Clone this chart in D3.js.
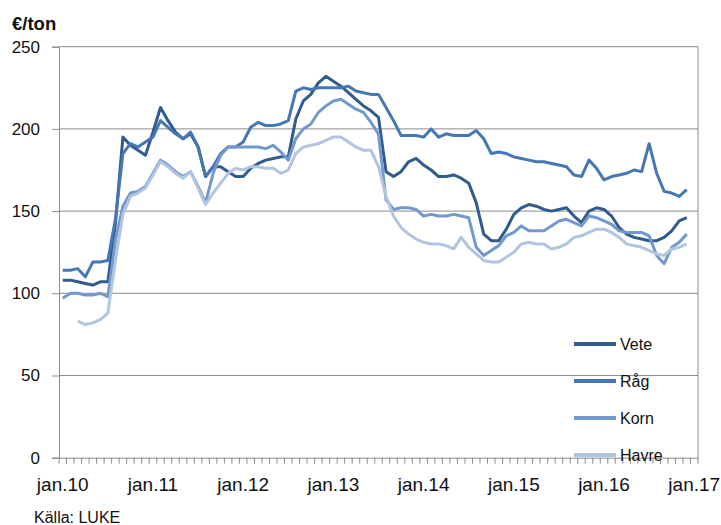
<!DOCTYPE html>
<html>
<head>
<meta charset="utf-8">
<script src="https://cdn.jsdelivr.net/npm/d3@7"></script>
<style>
  body { margin: 0; background: #fff; }
  text { font-family: "Liberation Sans", Arial, sans-serif; fill: #111; }
</style>
</head>
<body>
<div id="chart"></div>
<script>
// monthly prices, jan.10 - dec.16 (€/ton)
var monthNames = ["jan", "feb", "mar", "apr", "maj", "jun", "jul", "aug", "sep", "okt", "nov", "dec"];
var years = ["10", "11", "12", "13", "14", "15", "16", "17"];
var tickLabels = ["jan.10", "jan.11", "jan.12", "jan.13", "jan.14", "jan.15", "jan.16", "jan.17"];
var yTicks = [0, 50, 100, 150, 200, 250];

var vete = [108, 108, 107, 106, 105, 107, 107, 142, 195, 190, 187, 184,
            198, 213, 205, 198, 194, 197, 189, 171, 177, 177, 174, 171,
            171, 176, 179, 181, 182, 183, 183, 206, 217, 221, 228, 232,
            229, 226, 222, 218, 214, 211, 207, 174, 171, 174, 180, 182,
            178, 175, 171, 171, 172, 170, 167, 155, 136, 132, 132, 139,
            148, 152, 154, 153, 151, 150, 151, 152, 147, 143, 150, 152,
            151, 147, 140, 136, 134, 133, 132, 132, 134, 138, 144, 146];
var rag = [114, 114, 115, 110, 119, 119, 120, 145, 185, 191, 189, 192,
           195, 205, 201, 197, 194, 198, 189, 171, 177, 185, 189, 189,
           192, 201, 204, 202, 202, 203, 205, 223, 225, 224, 225, 225,
           225, 225, 226, 223, 222, 221, 221, 213, 205, 196, 196, 196,
           195, 200, 195, 197, 196, 196, 196, 199, 194, 185, 186, 185,
           183, 182, 181, 180, 180, 179, 178, 177, 172, 171, 181, 176,
           169, 171, 172, 173, 175, 174, 191, 173, 162, 161, 159, 163];
var korn = [97, 100, 100, 99, 99, 100, 98, 132, 153, 161, 162, 165,
            173, 181, 178, 174, 171, 174, 165, 155, 173, 184, 189, 189,
            189, 189, 189, 188, 190, 186, 181, 194, 200, 203, 210, 214,
            217, 218, 215, 212, 210, 204, 197, 157, 151, 152, 152, 151,
            147, 148, 147, 147, 148, 147, 146, 128, 123, 126, 129, 135,
            137, 141, 138, 138, 138, 141, 144, 145, 143, 141, 147, 146,
            144, 142, 138, 137, 137, 137, 135, 123, 118, 128, 131, 136];
var havre = [null, null, 83, 81, 82, 84, 88, 120, 148, 159, 161, 164,
             172, 180, 177, 173, 170, 174, 164, 154, 161, 167, 173, 176,
             175, 177, 177, 176, 176, 173, 175, 185, 189, 190, 191, 193,
             195, 195, 192, 189, 187, 187, 177, 159, 147, 140, 136, 133,
             131, 130, 130, 129, 127, 134, 128, 124, 120, 119, 119, 122,
             125, 130, 131, 130, 130, 127, 128, 130, 134, 135, 137, 139,
             139, 137, 134, 130, 129, 128, 126, 124, 123, 127, 128, 130];

var seriesNames = ["Vete", "Råg", "Korn", "Havre"];
var seriesValues = [vete, rag, korn, havre];
var colors = ["#305b8d", "#4677b5", "#7398cd", "#b1c4e0"];

// categories jan.10 ... jan.17
var months = [];
years.forEach(function(yr, yi) {
    monthNames.forEach(function(m) {
        if (yi < years.length - 1 || m === "jan") months.push(m + "." + yr);
    });
});

var width = 721, height = 525;
var plotLeft = 59, plotRight = 698, plotTop = 46.7, plotBottom = 457.7;
var gridColor = "#8c8c8c";

var svg = d3.select("#chart").append("svg")
    .attr("width", width)
    .attr("height", height);

var x = d3.scaleBand().domain(months).range([plotLeft, plotRight]);
var y = d3.scaleLinear().domain([0, 250]).range([plotBottom, plotTop]);
var bw = x.bandwidth();

// gridlines
svg.selectAll(".grid")
    .data(yTicks.slice(1))
    .enter().append("line")
    .attr("x1", plotLeft).attr("x2", plotRight)
    .attr("y1", function(d) { return y(d); })
    .attr("y2", function(d) { return y(d); })
    .style("stroke", gridColor).style("stroke-width", 1);

// right border
svg.append("line")
    .attr("x1", plotRight).attr("x2", plotRight)
    .attr("y1", plotTop).attr("y2", plotBottom)
    .style("stroke", gridColor).style("stroke-width", 1);

// y axis
var yAxis = d3.axisLeft(y).tickValues(yTicks).tickSize(7).tickPadding(12);
var gy = svg.append("g").attr("transform", "translate(" + plotLeft + ",0)").call(yAxis);
gy.select(".domain").style("stroke", gridColor);
gy.selectAll(".tick line").style("stroke", gridColor);
gy.selectAll(".tick text")
    .style("font-family", "Liberation Sans, Arial, sans-serif")
    .style("font-size", "17px").style("fill", "#111");

// x axis: tick marks between every month, labels on january
var xAxis = d3.axisBottom(x).tickValues(tickLabels).tickSize(0).tickPadding(20);
var gx = svg.append("g").attr("transform", "translate(0," + plotBottom + ")").call(xAxis);
gx.select(".domain").style("stroke", gridColor);
gx.selectAll(".tick text")
    .style("font-family", "Liberation Sans, Arial, sans-serif")
    .style("font-size", "19px").style("fill", "#111");

gx.selectAll(".minor")
    .data(months.concat(["end"]))
    .enter().append("line")
    .attr("class", "minor")
    .attr("x1", function(d) { return d === "end" ? plotRight : x(d); })
    .attr("x2", function(d) { return d === "end" ? plotRight : x(d); })
    .attr("y1", 0).attr("y2", 6)
    .style("stroke", gridColor).style("stroke-width", 1);

// lines
var line = d3.line()
    .defined(function(d) { return d != null; })
    .x(function(d, i) { return x(months[i]) + bw / 2; })
    .y(function(d) { return y(d); });

seriesValues.forEach(function(vals, s) {
    svg.append("path")
        .datum(vals)
        .attr("d", line)
        .style("fill", "none")
        .style("stroke", colors[s])
        .style("stroke-width", 3)
        .style("stroke-linejoin", "round");
});

// legend
var legend = svg.selectAll(".legend")
    .data(seriesNames)
    .enter().append("g")
    .attr("transform", function(d, i) { return "translate(574," + (344 + i * 37) + ")"; });

legend.append("line")
    .attr("x1", 0).attr("x2", 42)
    .attr("y1", 0).attr("y2", 0)
    .style("stroke", function(d, i) { return colors[i]; })
    .style("stroke-width", 4);

legend.append("text")
    .attr("x", 46)
    .attr("y", 6)
    .text(function(d) { return d; })
    .style("font-size", "16px");

// title and source
svg.append("text")
    .attr("x", 12).attr("y", 30)
    .text("€/ton")
    .style("font-weight", "bold")
    .style("font-size", "18.5px");

svg.append("text")
    .attr("x", 34).attr("y", 523)
    .text("Källa: LUKE")
    .style("font-size", "16px");
</script>
</body>
</html>
